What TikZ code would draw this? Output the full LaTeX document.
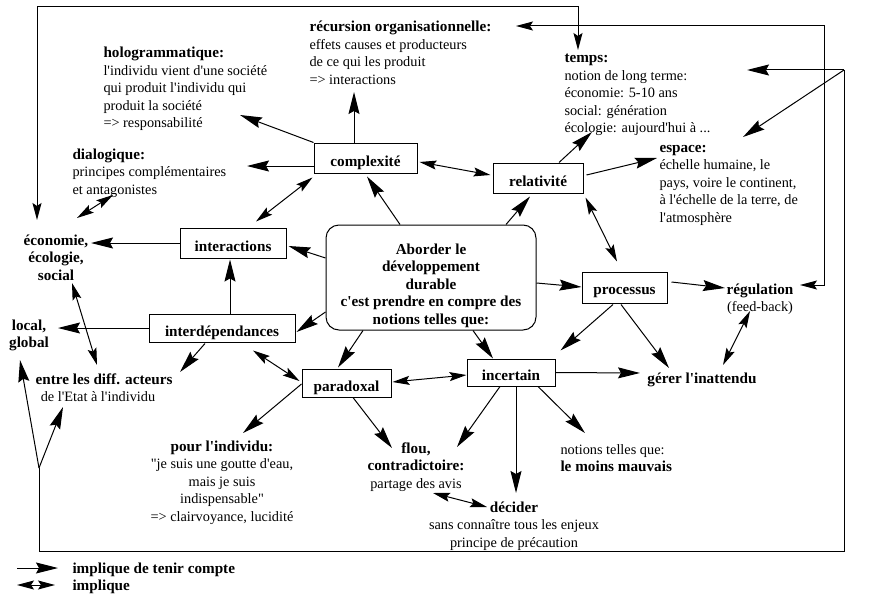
\documentclass[tikz,border=0pt]{standalone}
\usepackage{fontspec}
\setmainfont{Liberation Serif}[Ligatures=TeXOff]
\usetikzlibrary{arrows.meta,calc}
\newcommand\bt{\fontsize{15.2}{17.5}\selectfont\bfseries}
\newcommand\tl[1]{\begin{tabular}[t]{@{}l@{}}#1\end{tabular}}
\newcommand\tc[1]{\begin{tabular}[t]{@{}c@{}}#1\end{tabular}}
\tikzset{
  box/.style={draw, rectangle, inner sep=0pt, font=\bt, text height=17pt, text depth=1pt},
  txt/.style={inner sep=0pt, anchor=base west},
  ctxt/.style={inner sep=0pt, anchor=base},
  imp/.style={-{Stealth[length=22pt,width=11pt,inset=3pt]}},
  dbl/.style={{Stealth[length=17pt,width=9pt,inset=3pt]}-{Stealth[length=17pt,width=9pt,inset=3pt]}},
}
\begin{document}
\begin{tikzpicture}[x=1pt,y=-1pt,line width=1pt,font=\fontsize{14.3}{17.5}\selectfont]
\fill[white] (0,0) rectangle (874,599);
\useasboundingbox (0,0) rectangle (874,599);

% boxes
\node[box, minimum width=103pt, minimum height=30pt] (cplx) at (365.5,158) {complexité};
\node[box, minimum width=90pt, minimum height=30pt] (rel) at (538,178) {relativité};
\node[box, minimum width=106pt, minimum height=30pt] (inter) at (233,243) {interactions};
\node[box, minimum width=146pt, minimum height=28pt] (interd) at (222,328) {interdépendances};
\node[box, minimum width=89pt, minimum height=28pt] (para) at (346.5,383) {paradoxal};
\node[box, minimum width=88pt, minimum height=27pt] (inc) at (511,372.5) {incertain};
\node[box, minimum width=85pt, minimum height=31pt, text height=14pt] (proc) at (624.5,287.5) {processus};
\node[draw, rounded corners=13pt, minimum width=210pt, minimum height=105pt, inner sep=0pt] (ctr) at (431,277.5) {};
\node[ctxt, font=\bt] (ctrtxt) at (431,254) {\tc{Aborder le\\développement\\durable\\c'est prendre en compre des\\notions telles que:}};

% texts
\node[txt] (holo) at (103,58) {\tl{{\bt hologrammatique:}\\l'individu vient d'une société\\qui produit l'individu qui\\produit la société\\=> responsabilité}};
\node[txt] (dial) at (72,159) {\tl{{\bt dialogique:}\\principes complémentaires\\et antagonistes}};
\node[txt] (rec) at (309,32) {\tl{{\bt récursion organisationnelle:}\\effets causes et producteurs\\de ce qui les produit\\=> interactions}};
\node[txt] (temps) at (564,63) {\tl{{\bt temps:}\\notion de long terme:\\économie: 5-10 ans\\social: génération\\écologie: aujourd'hui à ...}};
\node[txt] (esp) at (659,152) {\tl{{\bt espace:}\\échelle humaine, le\\pays, voire le continent,\\à l'échelle de la terre, de\\l'atmosphère}};
\node[ctxt, font=\bt] (eco) at (56,245) {\tc{économie,\\écologie,\\social}};
\node[ctxt, font=\bt] (loc) at (29,330) {\tc{local,\\global}};
\node[ctxt] (entre) at (104,384) {\tc{{\bt entre les diff. acteurs}\\de l'Etat à l'individu\hspace*{12pt}}};
\node[ctxt] (pour) at (222,451) {\tc{{\bt pour l'individu:}\\"je suis une goutte d'eau,\\mais je suis\\indispensable"\\=> clairvoyance, lucidité}};
\node[ctxt] (flou) at (416,453) {\tc{{\bt flou,}\\{\bt contradictoire:}\\partage des avis}};
\node[ctxt] (dec) at (514,512) {\tc{{\bt décider}\\sans connaître tous les enjeux\\principe de précaution}};
\node[txt] (notions) at (560,454) {\tl{notions telles que:\\{\bt le moins mauvais}}};
\node[ctxt] (reg) at (760,294) {\tc{{\bt régulation}\\(feed-back)}};
\node[ctxt, font=\bt] (ger) at (702,383) {gérer l'inattendu};

% connectors
\draw[imp] (cplx.north west) -- ([shift={(137,57)}]holo.base west);
\draw[imp] ([shift={(0,8)}]cplx.west) -- ([shift={(175,7)}]dial.base west);
\draw[imp] ([shift={(-11.5,0)}]cplx.north) -- ([shift={(45,60)}]rec.base west);
\draw[dbl] ([shift={(-1,4)}]cplx.south west) -- ([shift={(23,-6)}]inter.north);
\draw[dbl] ([shift={(2,4)}]cplx.east) -- ([shift={(-2,-3)}]rel.west);
\draw[imp] ([shift={(-31,0)}]ctr.north) -- ([shift={(1.5,3)}]cplx.south);
\draw[imp] ([shift={(75,0)}]ctr.north) -- ([shift={(-8,3)}]rel.south);
\draw[imp] ([shift={(21,0)}]rel.north) -- ([shift={(28,69)}]temps.base west);
\draw[imp] ([shift={(3,-3)}]rel.east) -- ([shift={(-2,6)}]esp.base west);
\draw[dbl] ([shift={(2,4)}]rel.south east) -- ([shift={(-7.5,-10)}]proc.north);
\draw[imp] ([shift={(0,-19.5)}]ctr.west) -- ([shift={(2,3)}]inter.east);
\draw[imp] ([shift={(0,34.5)}]ctr.west) -- ([shift={(1,4)}]interd.east);
\draw[imp] ([shift={(0,5.5)}]ctr.east) -- ([shift={(0,-0.5)}]proc.west);
\draw[imp] ([shift={(-68,0)}]ctr.south) -- ([shift={(-8.5,-1)}]para.north);
\draw[imp] ([shift={(42,0)}]ctr.south) -- ([shift={(-18,0)}]inc.north);
\draw[imp] (inter.west) -- ([shift={(35,-2)}]eco.base);
\draw[imp] ([shift={(8,0)}]interd.north) -- ([shift={(-3,1)}]inter.south);
\draw[imp] (interd.west) -- ([shift={(29,-2)}]loc.base);
\draw[imp] ([shift={(-17,1)}]interd.south) -- ([shift={(76,-12)}]entre.base);
\draw[dbl] ([shift={(31,8)}]interd.south) -- ([shift={(-2,-2)}]para.west);
\draw[dbl] ([shift={(16,38)}]eco.base) -- ([shift={(-7,-19)}]entre.base);
\draw[dbl] ([shift={(41,36)}]dial.base west) -- ([shift={(21,-27)}]eco.base);
\draw[dbl] ([shift={(1,-1)}]para.east) -- ([shift={(0,2.5)}]inc.west);
\draw[imp] ([shift={(0,1)}]para.west) -- ([shift={(21,-18)}]pour.base);
\draw[imp] ([shift={(6.5,0)}]para.south) -- ([shift={(-24,-5)}]flou.base);
\draw[imp] ([shift={(-11,0)}]inc.south) -- ([shift={(41,-6)}]flou.base);
\draw[imp] ([shift={(5,0)}]inc.south) -- ([shift={(2,-19)}]dec.base);
\draw[imp] ([shift={(27,0)}]inc.south) -- ([shift={(25,-21)}]notions.base west);
\draw[imp] (inc.east) -- ([shift={(-62,-10)}]ger.base);
\draw[dbl] ([shift={(17,40)}]flou.base) -- ([shift={(-27,-5)}]dec.base);
\draw[imp] ([shift={(-11.5,1)}]proc.south) -- ([shift={(5,-8)}]inc.north east);
\draw[imp] ([shift={(-3.5,1)}]proc.south) -- ([shift={(-33,-15)}]ger.base);
\draw[imp] ([shift={(4,-5.5)}]proc.east) -- ([shift={(-35,-6)}]reg.base);
\draw[dbl] ([shift={(-10,17)}]reg.base) -- ([shift={(21,-18)}]ger.base);
\draw[dbl] ([shift={(40,-9)}]reg.base) -- ++(24,0) |- ([shift={(207,-6)}]rec.base west);
\draw[dbl] ([shift={(-19,-25)}]eco.base) -- ++(0,-213) -| ([shift={(14,-13)}]temps.base west);

\coordinate (hubR) at (844,70);
\coordinate (hubB) at (39,468);
\coordinate (cornBR) at (844,551);
\draw[imp] (hubR) -- ([shift={(183,7)}]temps.base west);
\draw[imp] (hubR) -- ([shift={(84,-15)}]esp.base west);
\draw (hubR) -- (cornBR) -| (hubB);
\draw[imp] (hubB) -- ([shift={(-9,30)}]loc.base);
\draw[imp] (hubB) -- ([shift={(-41,23)}]entre.base);

% legend
\coordinate (lgA1) at (17,568);
\coordinate (lgA2) at (58,568);
\draw[imp] (lgA1) -- (lgA2);
\node[txt, font=\bt] (lgt1) at (72,573) {implique de tenir compte};
\coordinate (lgB1) at (17,585);
\coordinate (lgB2) at (55,585);
\draw[dbl] (lgB1) -- (lgB2);
\node[txt, font=\bt] (lgt2) at (72,590) {implique};
\end{tikzpicture}
\end{document}
